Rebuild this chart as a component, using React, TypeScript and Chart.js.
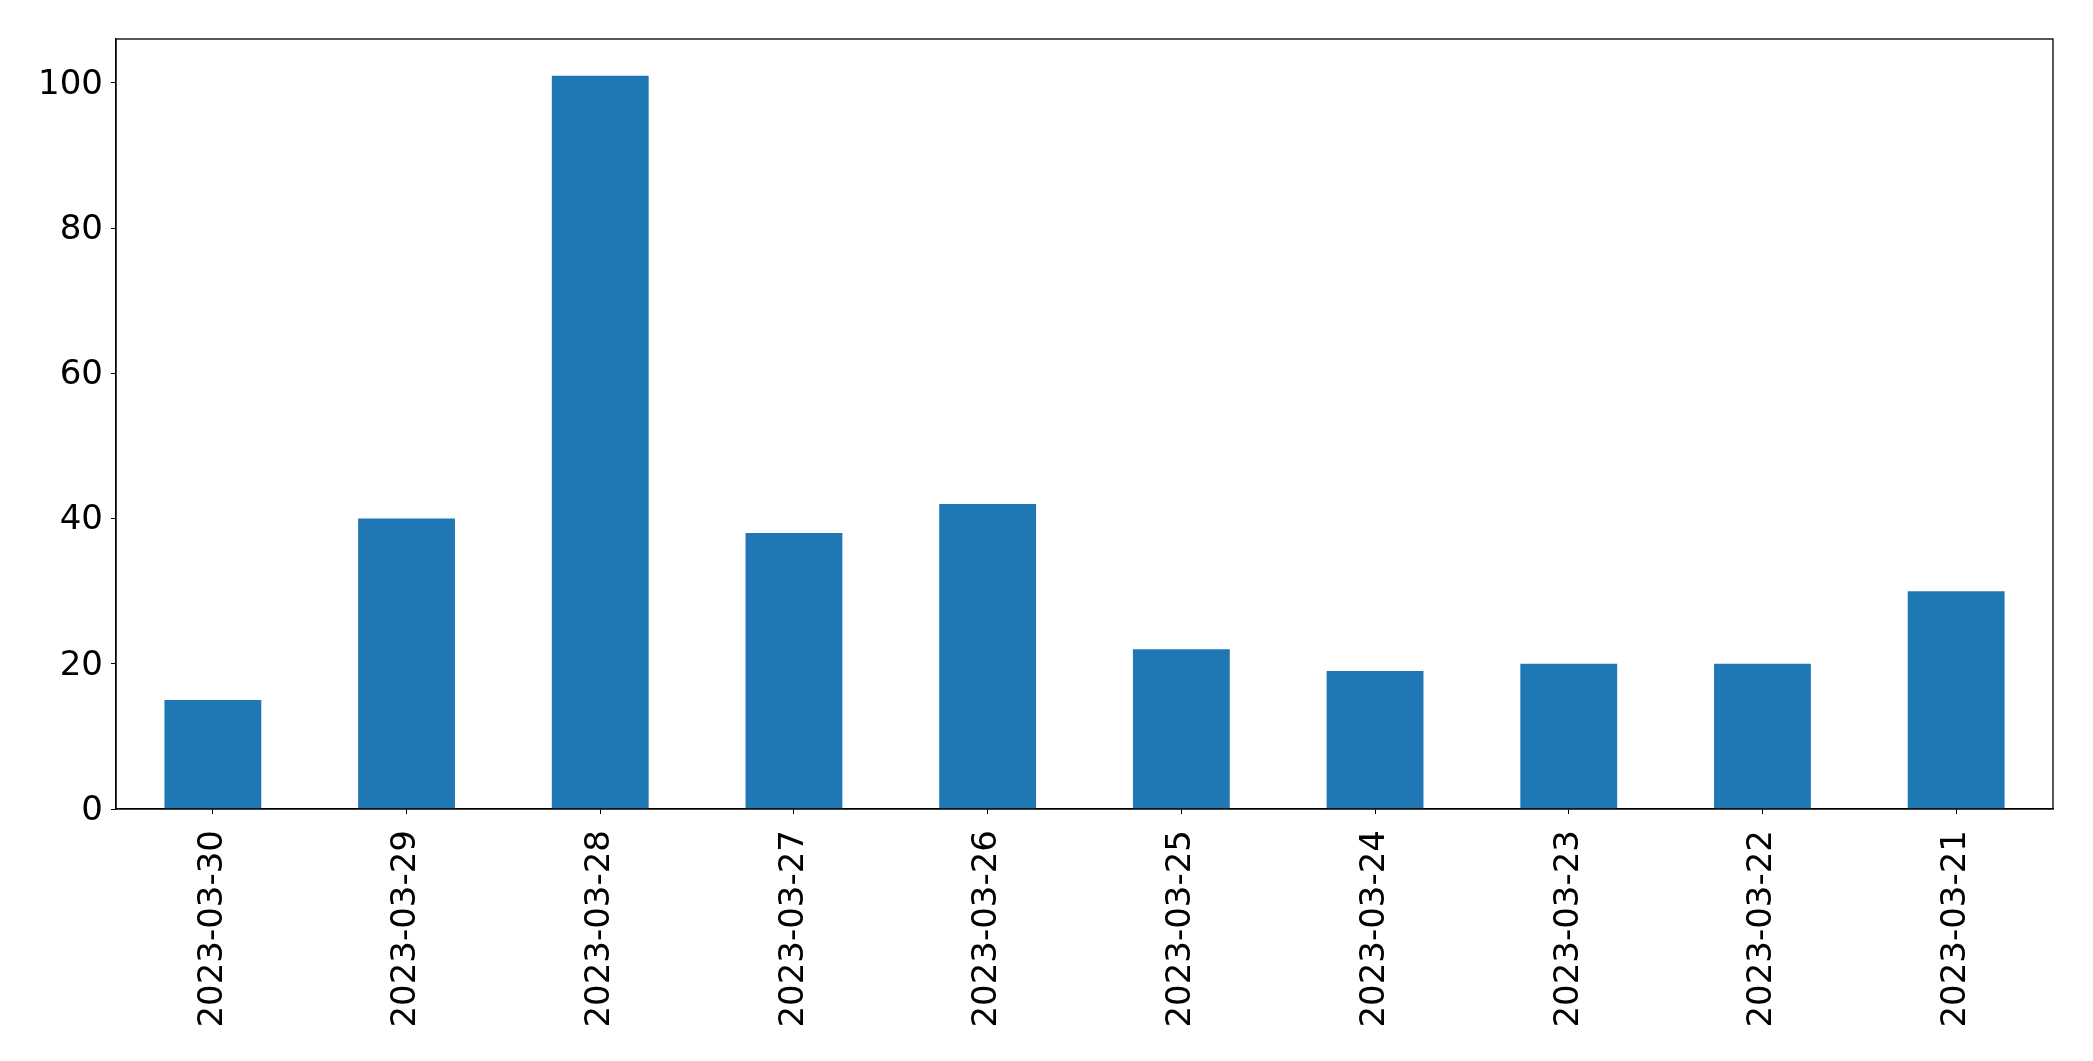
import React, { useEffect, useRef } from "react";
import { Chart, registerables } from "chart.js";

Chart.register(...registerables);

const categories = [
  "2023-03-30",
  "2023-03-29",
  "2023-03-28",
  "2023-03-27",
  "2023-03-26",
  "2023-03-25",
  "2023-03-24",
  "2023-03-23",
  "2023-03-22",
  "2023-03-21",
];
const values = [15, 40, 101, 38, 42, 22, 19, 20, 20, 30];
const yTicks = [0, 20, 40, 60, 80, 100];

const W = 2093;
const H = 1061;
const FONT = "'DejaVu Sans', sans-serif";

const framePlugin = {
  id: "frame",
  afterDraw(chart: any) {
    const { ctx, chartArea } = chart;
    ctx.save();
    ctx.strokeStyle = "#000";
    ctx.lineWidth = 1.3;
    ctx.strokeRect(chartArea.left, chartArea.top, chartArea.right - chartArea.left, chartArea.bottom - chartArea.top);
    ctx.restore();
  },
};

export default function App() {
  const ref = useRef<HTMLCanvasElement | null>(null);
  useEffect(() => {
    document.body.style.margin = "0";
    const canvas = ref.current!;
    const chart = new Chart(canvas, {
      type: "bar",
      data: {
        labels: categories,
        datasets: [
          {
            data: values,
            backgroundColor: "#1f77b4",
            borderWidth: 0,
            categoryPercentage: 1,
            barPercentage: 0.5,
          },
        ],
      },
      options: {
        animation: false,
        responsive: false,
        maintainAspectRatio: false,
        devicePixelRatio: 1,
        layout: { padding: { left: 0, top: 39, right: 40, bottom: 0 } },
        plugins: { legend: { display: false }, tooltip: { enabled: false } },
        scales: {
          x: {
            grid: { display: true, offset: false, drawOnChartArea: false, drawTicks: true, tickLength: 5, color: "#000", lineWidth: 1 },
            border: { display: true, color: "#000", width: 1.3 },
            ticks: {
              maxRotation: 90,
              minRotation: 90,
              autoSkip: false,
              padding: 16,
              color: "#000",
              font: { family: FONT, size: 34 },
            },
            afterFit(scale: any) {
              scale.height = H - 809;
            },
          },
          y: {
            min: 0,
            max: 106.05,
            grid: { display: true, drawOnChartArea: false, drawTicks: true, tickLength: 5, color: "#000", lineWidth: 1 },
            border: { display: true, color: "#000", width: 1.3 },
            afterBuildTicks(scale: any) {
              scale.ticks = yTicks.map((v) => ({ value: v }));
            },
            ticks: {
              padding: 8,
              labelOffset: 2,
              color: "#000",
              font: { family: FONT, size: 34 },
            },
            afterFit(scale: any) {
              scale.width = 116;
            },
          },
        },
      },
      plugins: [framePlugin],
    });
    return () => chart.destroy();
  }, []);
  return (
    <div style={{ width: W, height: H, background: "#fff" }}>
      <canvas ref={ref} width={W} height={H} style={{ display: "block", width: W, height: H }} />
    </div>
  );
}
